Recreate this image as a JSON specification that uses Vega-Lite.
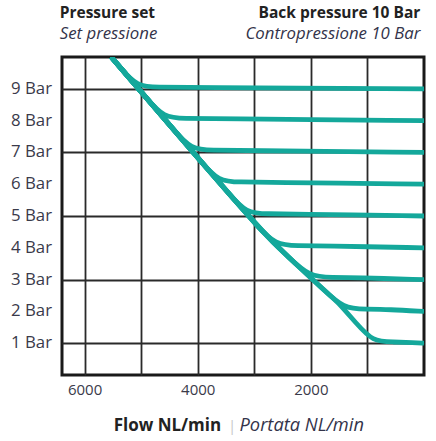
{
  "$schema": "https://vega.github.io/schema/vega-lite/v6.json",
  "width": 362,
  "height": 318,
  "autosize": "none",
  "padding": {"left": 62, "top": 57, "right": 12, "bottom": 66},
  "background": "white",
  "config": {
    "font": "Open Sans",
    "view": {"stroke": "#1a1a1a", "strokeWidth": 3}
  },
  "layer": [
    {
      "data": {
        "values": [
          {"series": "9", "i": 0, "flow": 5530, "bar": 10},
          {"series": "9", "i": 1, "flow": 5380, "bar": 9.69},
          {"series": "9", "i": 2, "flow": 5076, "bar": 9.06},
          {"series": "9", "i": 3, "flow": 4676, "bar": 9.05},
          {"series": "9", "i": 4, "flow": 4276, "bar": 9.04},
          {"series": "9", "i": 5, "flow": 0, "bar": 9},
          {"series": "8", "i": 0, "flow": 5530, "bar": 10},
          {"series": "8", "i": 1, "flow": 5231, "bar": 9.38},
          {"series": "8", "i": 2, "flow": 4917, "bar": 8.73},
          {"series": "8", "i": 3, "flow": 4603, "bar": 8.08},
          {"series": "8", "i": 4, "flow": 4203, "bar": 8.07},
          {"series": "8", "i": 5, "flow": 3803, "bar": 8.06},
          {"series": "8", "i": 6, "flow": 0, "bar": 8},
          {"series": "7", "i": 0, "flow": 5530, "bar": 10},
          {"series": "7", "i": 1, "flow": 4748, "bar": 8.38},
          {"series": "7", "i": 2, "flow": 4434, "bar": 7.73},
          {"series": "7", "i": 3, "flow": 4120, "bar": 7.08},
          {"series": "7", "i": 4, "flow": 3720, "bar": 7.07},
          {"series": "7", "i": 5, "flow": 3320, "bar": 7.06},
          {"series": "7", "i": 6, "flow": 0, "bar": 7},
          {"series": "6", "i": 0, "flow": 5530, "bar": 10},
          {"series": "6", "i": 1, "flow": 4265, "bar": 7.38},
          {"series": "6", "i": 2, "flow": 3951, "bar": 6.73},
          {"series": "6", "i": 3, "flow": 3634, "bar": 6.08},
          {"series": "6", "i": 4, "flow": 3234, "bar": 6.07},
          {"series": "6", "i": 5, "flow": 2834, "bar": 6.06},
          {"series": "6", "i": 6, "flow": 0, "bar": 6},
          {"series": "5", "i": 0, "flow": 5530, "bar": 10},
          {"series": "5", "i": 1, "flow": 3966, "bar": 6.76},
          {"series": "5", "i": 2, "flow": 3780, "bar": 6.38},
          {"series": "5", "i": 3, "flow": 3462, "bar": 5.73},
          {"series": "5", "i": 4, "flow": 3145, "bar": 5.08},
          {"series": "5", "i": 5, "flow": 2745, "bar": 5.07},
          {"series": "5", "i": 6, "flow": 2345, "bar": 5.06},
          {"series": "5", "i": 7, "flow": 0, "bar": 5},
          {"series": "4", "i": 0, "flow": 5530, "bar": 10},
          {"series": "4", "i": 1, "flow": 3966, "bar": 6.76},
          {"series": "4", "i": 2, "flow": 3291, "bar": 5.38},
          {"series": "4", "i": 3, "flow": 2973, "bar": 4.73},
          {"series": "4", "i": 4, "flow": 2624, "bar": 4.08},
          {"series": "4", "i": 5, "flow": 2224, "bar": 4.07},
          {"series": "4", "i": 6, "flow": 1824, "bar": 4.06},
          {"series": "4", "i": 7, "flow": 0, "bar": 4},
          {"series": "3", "i": 0, "flow": 5530, "bar": 10},
          {"series": "3", "i": 1, "flow": 3966, "bar": 6.76},
          {"series": "3", "i": 2, "flow": 2806, "bar": 4.38},
          {"series": "3", "i": 3, "flow": 2411, "bar": 3.73},
          {"series": "3", "i": 4, "flow": 2017, "bar": 3.08},
          {"series": "3", "i": 5, "flow": 1617, "bar": 3.07},
          {"series": "3", "i": 6, "flow": 1217, "bar": 3.06},
          {"series": "3", "i": 7, "flow": 0, "bar": 3},
          {"series": "2", "i": 0, "flow": 5530, "bar": 10},
          {"series": "2", "i": 1, "flow": 3966, "bar": 6.76},
          {"series": "2", "i": 2, "flow": 2788, "bar": 4.35},
          {"series": "2", "i": 3, "flow": 2199, "bar": 3.38},
          {"series": "2", "i": 4, "flow": 1801, "bar": 2.73},
          {"series": "2", "i": 5, "flow": 1420, "bar": 2.08},
          {"series": "2", "i": 6, "flow": 1020, "bar": 2.07},
          {"series": "2", "i": 7, "flow": 620, "bar": 2.06},
          {"series": "2", "i": 8, "flow": 0, "bar": 2},
          {"series": "1", "i": 0, "flow": 5530, "bar": 10},
          {"series": "1", "i": 1, "flow": 3966, "bar": 6.76},
          {"series": "1", "i": 2, "flow": 2788, "bar": 4.35},
          {"series": "1", "i": 3, "flow": 2023, "bar": 3.09},
          {"series": "1", "i": 4, "flow": 1505, "bar": 2.25},
          {"series": "1", "i": 5, "flow": 1480, "bar": 2.2},
          {"series": "1", "i": 6, "flow": 1197, "bar": 1.63},
          {"series": "1", "i": 7, "flow": 910, "bar": 1.05},
          {"series": "1", "i": 8, "flow": 540, "bar": 1.04},
          {"series": "1", "i": 9, "flow": 180, "bar": 1.02},
          {"series": "1", "i": 10, "flow": 0, "bar": 1}
        ]
      },
      "mark": {"type": "line", "interpolate": "basis", "strokeWidth": 4.8, "color": "#14a89b", "clip": true},
      "encoding": {
        "x": {
          "field": "flow", "type": "quantitative",
          "scale": {"domain": [0, 6400], "reverse": true, "nice": false, "zero": false},
          "axis": {
            "values": [1000, 2000, 3000, 4000, 5000, 6000],
            "labelExpr": "datum.value % 2000 === 0 ? datum.label : ''",
            "format": "d",
            "labelOverlap": false,
            "grid": true, "gridColor": "#2a2a2a", "gridWidth": 1.8, "gridOpacity": 1,
            "ticks": false, "domain": false,
            "labelFontSize": 15, "labelColor": "#3a3a4a", "labelPadding": 7,
            "title": null
          }
        },
        "y": {
          "field": "bar", "type": "quantitative",
          "scale": {"domain": [0, 10], "nice": false},
          "axis": {
            "values": [1, 2, 3, 4, 5, 6, 7, 8, 9],
            "labels": false,
            "grid": true, "gridColor": "#2a2a2a", "gridWidth": 1.8, "gridOpacity": 1,
            "ticks": false, "domain": false,
            "title": null
          }
        },
        "detail": {"field": "series", "type": "nominal"},
        "order": {"field": "i", "type": "quantitative"}
      }
    },
    {
      "data": {
        "values": [
          {"bar": 1, "label": "1 Bar"},
          {"bar": 2, "label": "2 Bar"},
          {"bar": 3, "label": "3 Bar"},
          {"bar": 4, "label": "4 Bar"},
          {"bar": 5, "label": "5 Bar"},
          {"bar": 6, "label": "6 Bar"},
          {"bar": 7, "label": "7 Bar"},
          {"bar": 8, "label": "8 Bar"},
          {"bar": 9, "label": "9 Bar"}
        ]
      },
      "mark": {"type": "text", "align": "right", "baseline": "middle", "dx": -10, "fontSize": 16.8, "color": "#3a3a4a"},
      "encoding": {
        "x": {"datum": 6400, "type": "quantitative"},
        "y": {"field": "bar", "type": "quantitative"},
        "text": {"field": "label", "type": "nominal"}
      }
    },
    {
      "data": {"values": [{}]},
      "mark": {"type": "text", "text": "Pressure set", "align": "left", "baseline": "alphabetic", "fontSize": 15.5, "fontWeight": "bold", "color": "#222222"},
      "encoding": {"x": {"datum": 6440, "type": "quantitative"}, "y": {"datum": 11.24, "type": "quantitative"}}
    },
    {
      "data": {"values": [{}]},
      "mark": {"type": "text", "text": "Set pressione", "align": "left", "baseline": "alphabetic", "fontSize": 16.8, "fontStyle": "italic", "color": "#33334a"},
      "encoding": {"x": {"datum": 6440, "type": "quantitative"}, "y": {"datum": 10.57, "type": "quantitative"}}
    },
    {
      "data": {"values": [{}]},
      "mark": {"type": "text", "text": "Back pressure 10 Bar", "align": "right", "baseline": "alphabetic", "fontSize": 15.5, "fontWeight": "bold", "color": "#222222"},
      "encoding": {"x": {"datum": 65, "type": "quantitative"}, "y": {"datum": 11.24, "type": "quantitative"}}
    },
    {
      "data": {"values": [{}]},
      "mark": {"type": "text", "text": "Contropressione 10 Bar", "align": "right", "baseline": "alphabetic", "fontSize": 16.8, "fontStyle": "italic", "color": "#33334a"},
      "encoding": {"x": {"datum": 65, "type": "quantitative"}, "y": {"datum": 10.57, "type": "quantitative"}}
    },
    {
      "data": {"values": [{}]},
      "mark": {"type": "text", "text": "Flow NL/min", "align": "right", "baseline": "alphabetic", "fontSize": 17, "fontWeight": "bold", "color": "#222222"},
      "encoding": {"x": {"datum": 3586, "type": "quantitative"}, "y": {"datum": -1.76, "type": "quantitative"}}
    },
    {
      "data": {"values": [{}]},
      "mark": {"type": "text", "text": "|", "align": "center", "baseline": "alphabetic", "fontSize": 15, "color": "#c8c8c8"},
      "encoding": {"x": {"datum": 3391, "type": "quantitative"}, "y": {"datum": -1.76, "type": "quantitative"}}
    },
    {
      "data": {"values": [{}]},
      "mark": {"type": "text", "text": "Portata NL/min", "align": "left", "baseline": "alphabetic", "fontSize": 18.3, "fontStyle": "italic", "color": "#33334a"},
      "encoding": {"x": {"datum": 3262, "type": "quantitative"}, "y": {"datum": -1.76, "type": "quantitative"}}
    }
  ]
}
